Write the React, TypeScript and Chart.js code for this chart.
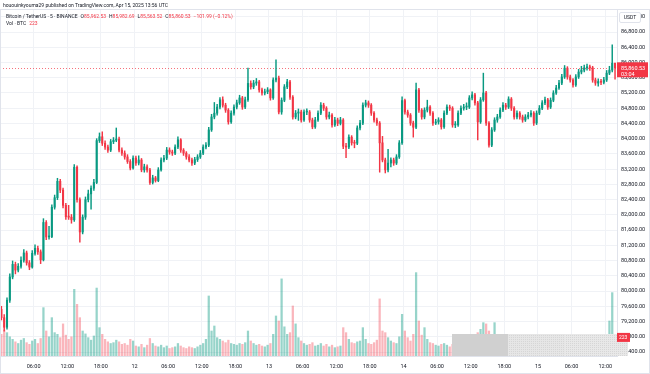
import React, { useEffect, useRef } from "react";
import { Chart, registerables } from "chart.js";
Chart.register(...registerables);

// 30-minute candles, Apr 11 00:00 UTC -> Apr 15 13:30 UTC (BTCUSDT, Binance)
const firstOpen = 79520;
const closes = [
  79300, 79050, 79760, 80370, 80700, 80550, 80650, 80810, 81000, 80740,
  80630, 80990, 81120, 81030, 80820, 81800, 81420, 81430, 82200, 82450,
  82880, 82650, 82250, 81950, 81940, 81870, 83250, 82400, 81550, 81940,
  82400, 82550, 82700, 82850, 83950, 84050, 83880, 83780, 83700, 83920,
  83960, 83990, 83700, 83620, 83520, 83400, 83230, 83490, 83360, 83440,
  83180, 83260, 83180, 82850, 82970, 82900, 83180, 83440, 83490, 83700,
  83650, 83620, 83780, 83970, 83700, 83620, 83520, 83440, 83360, 83450,
  83520, 83620, 83780, 83830, 84230, 84570, 84670, 84830, 85020, 84880,
  84750, 84440, 84670, 84830, 84940, 85070, 84830, 85020, 85450, 85360,
  85460, 85490, 85280, 85200, 85230, 85280, 85070, 85540, 85590, 84700,
  85010, 85360, 85490, 85090, 84570, 84670, 84700, 84490, 84700, 84700,
  84490, 84310, 84490, 84670, 84880, 84800, 84570, 84620, 84360, 84490,
  84400, 84490, 83800, 83780, 84040, 83890, 83880, 84280, 84410, 84880,
  84940, 84880, 84670, 84490, 84410, 83890, 83440, 83180, 83360, 83440,
  83360, 83520, 83890, 85000, 84700, 84620, 84410, 84300, 85280, 84750,
  84570, 84750, 84830, 84670, 84410, 84440, 84490, 84310, 84670, 84830,
  84800, 84360, 84360, 84670, 84800, 84830, 84830, 85070, 85150, 84940,
  84440, 85020, 85200, 84410, 83830, 84230, 84490, 84570, 84750, 84880,
  84830, 85040, 84800, 84570, 84670, 84570, 84490, 84570, 84620, 84670,
  84410, 84670, 84800, 84940, 85020, 84830, 85010, 85200, 85330, 85460,
  85620, 85850, 85620, 85540, 85410, 85620, 85750, 85800, 85860, 85880,
  85860, 85540, 85460, 85500, 85480, 85540, 85720, 85800, 85980, 85860.53,
];
const highs = [
  79600, 79380, 79820, 80450, 80790, 80760, 80720, 80900, 81090, 81050,
  80800, 81060, 81210, 81180, 81080, 81900, 81850, 81700, 82260, 82520,
  82960, 82930, 82700, 82300, 82250, 82010, 83320, 83290, 82450, 82000,
  82470, 82650, 82760, 82930, 84000, 84150, 84180, 83940, 83830, 83980,
  84030, 84280, 84040, 83760, 83680, 83580, 83450, 83550, 83540, 83550,
  83480, 83330, 83310, 83220, 83040, 83010, 83240, 83500, 83560, 83770,
  83760, 83700, 83840, 84050, 84000, 83740, 83660, 83580, 83490, 83510,
  83580, 83690, 83840, 83900, 84300, 84640, 84950, 84900, 85080, 85100,
  84930, 84790, 84730, 84890, 85010, 85140, 85110, 85090, 85850, 85520,
  85530, 85580, 85530, 85330, 85300, 85340, 85310, 85600, 86070, 85640,
  85070, 85420, 85560, 85530, 85130, 84740, 84780, 84750, 84760, 84780,
  84740, 84540, 84560, 84730, 84950, 84930, 84840, 84700, 84660, 84560,
  84540, 84560, 84530, 83880, 84100, 84080, 83960, 84340, 84480, 84940,
  85010, 84990, 84920, 84710, 84540, 84450, 84060, 83490, 83720, 83500,
  83490, 83580, 83950, 85100, 85040, 84750, 84660, 84460, 85460, 85320,
  84790, 84810, 85010, 84870, 84710, 84510, 84550, 84530, 84730, 84890,
  84880, 84840, 84450, 84730, 84860, 84900, 84940, 85130, 85230, 85190,
  84980, 85080, 85720, 85240, 84450, 84290, 84550, 84640, 84810, 84950,
  84930, 85100, 85080, 84840, 84730, 84710, 84620, 84630, 84690, 84740,
  84710, 84730, 84870, 85000, 85090, 85060, 85070, 85260, 85400, 85530,
  85690, 85920, 85890, 85670, 85580, 85680, 85820, 85900, 85930, 85960,
  85930, 85900, 85590, 85570, 85560, 85610, 85790, 85900, 86460, 85982.69,
];
const lows = [
  79240, 78950, 79000, 79700, 80320, 80450, 80500, 80600, 80760, 80680,
  80560, 80600, 80940, 80960, 80720, 80790, 81350, 81360, 81400, 82150,
  82400, 82580, 82180, 81880, 81880, 81780, 81830, 82330, 81280, 81500,
  81880, 82340, 82150, 82640, 82820, 83900, 83820, 83720, 83640, 83660,
  83870, 83920, 83650, 83560, 83460, 83350, 83180, 83200, 83300, 83310,
  83130, 83120, 83120, 82800, 82810, 82860, 82870, 83150, 83390, 83450,
  83590, 83560, 83580, 83740, 83640, 83560, 83460, 83390, 83300, 83320,
  83400, 83480, 83580, 83730, 83790, 84190, 84520, 84620, 84780, 84830,
  84690, 84380, 84400, 84620, 84780, 84900, 84770, 84790, 84980, 85300,
  85310, 85400, 85220, 85140, 85150, 85180, 85010, 85030, 85490, 84650,
  84640, 84970, 85310, 85030, 84510, 84520, 84480, 84430, 84450, 84630,
  84430, 84260, 84270, 84450, 84630, 84740, 84510, 84520, 84300, 84320,
  84340, 84360, 83740, 83500, 83740, 83830, 83760, 83840, 84230, 84370,
  84830, 84820, 84610, 84430, 84350, 83120, 83390, 83100, 83130, 83260,
  83300, 83320, 83480, 83850, 84640, 84560, 84350, 84040, 84260, 84690,
  84510, 84520, 84700, 84610, 84350, 84370, 84380, 84250, 84270, 84630,
  84740, 84300, 84290, 84320, 84630, 84750, 84760, 84790, 85020, 84880,
  83970, 84400, 84980, 84350, 83780, 83790, 84190, 84430, 84530, 84710,
  84770, 84790, 84740, 84510, 84520, 84510, 84430, 84450, 84520, 84570,
  84350, 84370, 84630, 84760, 84890, 84770, 84790, 84970, 85160, 85290,
  85420, 85580, 85560, 85480, 85350, 85370, 85580, 85700, 85750, 85800,
  85790, 85480, 85400, 85380, 85420, 85440, 85500, 85680, 85750, 85563.52,
];
const volumes = [
  260, 310, 280, 230, 200, 170, 150, 190, 210, 160,
  140, 180, 200, 150, 210, 580, 300, 230, 460, 280,
  260, 220, 385, 250, 200, 230, 800, 620, 460, 300,
  265, 220, 190, 240, 815, 340, 260, 200, 170, 150,
  160, 190, 170, 140, 150, 130, 200, 180, 120, 110,
  140, 100, 130, 210, 150, 120, 110, 130, 100, 120,
  90, 100, 110, 150, 120, 100, 90, 110, 100, 90,
  110, 130, 150, 200, 720, 300, 360, 220, 200, 180,
  160, 190, 150, 140, 130, 150, 140, 160, 300, 180,
  150, 130, 140, 120, 110, 130, 150, 260, 480, 420,
  925, 350, 260, 280, 600, 385, 220, 180, 150, 130,
  140, 160, 120, 130, 150, 120, 140, 110, 130, 100,
  110, 120, 340, 280, 200, 160, 150, 170, 180, 340,
  200, 150, 140, 160, 190, 685, 300, 280, 220, 180,
  160, 150, 230, 500, 300, 220, 180, 260, 1000, 420,
  250, 340, 200, 160, 150, 130, 120, 140, 150, 130,
  110, 140, 120, 110, 100, 120, 110, 130, 150, 140,
  280, 320, 400, 385, 300, 260, 400, 200, 160, 150,
  140, 130, 120, 140, 110, 100, 120, 110, 100, 110,
  130, 120, 140, 130, 150, 120, 130, 160, 150, 170,
  180, 220, 160, 140, 150, 130, 160, 150, 140, 170,
  150, 200, 180, 160, 150, 170, 220, 420, 760, 223,
];
const xTickLabels = [
  "06:00", "12:00", "18:00", "12", "06:00", "12:00", "18:00", "13",
  "06:00", "12:00", "18:00", "14", "06:00", "12:00", "18:00", "15",
  "06:00", "12:00",
];
const yTickValues = [
  78400, 78800, 79200, 79600, 80000, 80400, 80800, 81200, 81600, 82000, 82400,
  82800, 83200, 83600, 84000, 84400, 84800, 85200, 85600, 86000, 86400, 86800, 87200,
];
const headerTitle = "hououinkyouma29 published on TradingView.com, Apr 15, 2025 13:56 UTC";
const symbolText = "Bitcoin / TetherUS · 5 · BINANCE";
const ohlcLegend = [
  ["O", "85,962.53"], ["H", "85,982.69"], ["L", "85,563.52"], ["C", "85,860.53"],
];
const changeText = "−101.99 (−0.12%)";
const volTitle = "Vol · BTC";
const lastVolumeText = "223";
const countdownText = "03:04";

const UP = "#089981";
const DOWN = "#F23645";
const UP_VOL = "rgba(8,153,129,0.42)";
const DOWN_VOL = "rgba(242,54,69,0.36)";
const FONT = "Roboto, 'Liberation Sans', sans-serif";

export default function App() {
  const ref = useRef<HTMLCanvasElement | null>(null);

  useEffect(() => {
    const canvas = ref.current;
    if (!canvas) return;
    document.body.style.margin = "0";

    const opens = closes.map((_, i) => (i === 0 ? firstOpen : closes[i - 1]));
    const isUp = closes.map((c, i) => c >= opens[i]);
    const bodyData = closes.map((c, i) => ({ x: i + 0.5, y: [opens[i], c] }));
    const wickData = closes.map((_, i) => ({ x: i + 0.5, y: [lows[i], highs[i]] }));
    const volData = volumes.map((v, i) => ({ x: i + 0.5, y: v }));
    const candleColors = isUp.map((u) => (u ? UP : DOWN));
    const volColors = isUp.map((u) => (u ? UP_VOL : DOWN_VOL));
    const lastClose = closes[closes.length - 1];
    const lastVol = volumes[volumes.length - 1];
    const lastUp = isUp[isUp.length - 1];

    const overlay = {
      id: "overlay",
      beforeDatasetsDraw(chart: any) {
        const { ctx, chartArea, scales } = chart;
        const py = Math.round(scales.y.getPixelForValue(lastClose)) + 0.5;
        ctx.save();
        ctx.strokeStyle = DOWN;
        ctx.globalAlpha = 0.7;
        ctx.lineWidth = 1;
        ctx.setLineDash([1, 2]);
        ctx.beginPath();
        ctx.moveTo(chartArea.left, py);
        ctx.lineTo(chartArea.right, py);
        ctx.stroke();
        ctx.restore();
      },
      afterDraw(chart: any) {
        const { ctx, chartArea, scales } = chart;
        ctx.save();
        // grey panel at the bottom right
        const segs: [number, number, string][] = [
          [452, 508, "#d0d0d0"],
          [508, 565, "#e6e6e6"],
          [565, 628, "#e8e8e8"],
        ];
        segs.forEach(([a, b, c], k) => {
          ctx.fillStyle = c;
          ctx.fillRect(a, 334, b - a, 22);
          if (k > 0) {
            ctx.fillStyle = "#d6d6d6";
            for (let xx = a + 1; xx < b; xx += 2) {
              for (let yy = 335; yy < 356; yy += 2) ctx.fillRect(xx, yy, 1, 1);
            }
          }
        });
        // last price label
        const py = scales.y.getPixelForValue(lastClose);
        const x0 = chartArea.right;
        ctx.fillStyle = DOWN;
        ctx.fillRect(x0, py - 5.5, 31, 15);
        ctx.fillStyle = "#ffffff";
        ctx.font = `5.5px ${FONT}`;
        ctx.textBaseline = "middle";
        ctx.textAlign = "left";
        ctx.fillText(lastClose.toLocaleString("en-US", { minimumFractionDigits: 2 }), x0 + 4, py + 0.5);
        ctx.fillText(countdownText, x0 + 4, py + 6.5);
        // last volume label
        const vy = scales.yv.getPixelForValue(lastVol);
        ctx.fillStyle = lastUp ? UP : DOWN;
        ctx.fillRect(x0, vy - 4.5, 13, 9);
        ctx.fillStyle = "#ffffff";
        ctx.font = `5px ${FONT}`;
        ctx.fillText(lastVolumeText, x0 + 2, vy);
        // frame
        ctx.strokeStyle = "#e0e3eb";
        ctx.lineWidth = 1;
        ctx.strokeRect(0.5, 9.5, 649, 364);
        ctx.restore();
      },
    };

    const chart = new Chart(canvas, {
      type: "bar",
      data: {
        datasets: [
          {
            data: bodyData as any,
            backgroundColor: candleColors,
            barThickness: 1.4,
            minBarLength: 1,
            grouped: false,
            order: 1,
            yAxisID: "y",
          } as any,
          {
            data: wickData as any,
            backgroundColor: candleColors,
            barThickness: 0.8,
            grouped: false,
            order: 2,
            yAxisID: "y",
          } as any,
          {
            data: volData as any,
            backgroundColor: volColors,
            barThickness: 1.6,
            grouped: false,
            order: 3,
            yAxisID: "yv",
          } as any,
        ],
      },
      options: {
        responsive: false,
        animation: false,
        devicePixelRatio: 1,
        layout: { padding: { left: 0, right: 0, top: 10, bottom: 0 } },
        plugins: { legend: { display: false }, tooltip: { enabled: false } },
        scales: {
          x: {
            type: "linear",
            min: 0,
            max: 220.2,
            offset: false,
            grid: { color: "#f0f2f6", drawTicks: false, offset: false },
            border: { display: true, color: "#e0e3eb" },
            afterBuildTicks: (scale: any) => {
              scale.ticks = xTickLabels.map((_, k) => ({ value: (k + 1) * 12 }));
            },
            afterFit: (scale: any) => {
              scale.height = 18;
            },
            ticks: {
              autoSkip: false,
              maxRotation: 0,
              padding: 7,
              color: "#131722",
              font: { family: FONT, size: 5.5 },
              callback: (_v: any, idx: number) => xTickLabels[idx],
            },
          },
          y: {
            type: "linear",
            position: "right",
            min: 78295,
            max: 87377.5,
            grid: { color: "#f0f2f6", drawTicks: false },
            border: { display: true, color: "#e0e3eb" },
            afterBuildTicks: (scale: any) => {
              scale.ticks = yTickValues.map((v) => ({ value: v }));
            },
            afterFit: (scale: any) => {
              scale.width = 33;
            },
            ticks: {
              padding: 4,
              crossAlign: "near",
              color: "#131722",
              font: { family: FONT, size: 5.5 },
              callback: (v: any) =>
                Number(v).toLocaleString("en-US", { minimumFractionDigits: 2, maximumFractionDigits: 2 }),
            },
          },
          yv: {
            type: "linear",
            display: false,
            min: 0,
            max: 4150,
          },
        },
      } as any,
      plugins: [overlay],
    });
    return () => chart.destroy();
  }, []);

  const txt: React.CSSProperties = {
    position: "absolute",
    fontFamily: FONT,
    fontSize: "5px",
    lineHeight: "6px",
    color: "#131722",
    whiteSpace: "nowrap",
  };

  return (
    <div style={{ position: "fixed", left: 0, top: 0, width: 650, height: 374, background: "#ffffff", overflow: "hidden" }}>
      <canvas ref={ref} width={650} height={374} style={{ position: "absolute", left: 0, top: 0, width: 650, height: 374 }} />
      <div style={{ ...txt, left: 3, top: 2 }}>{headerTitle}</div>
      <div style={{ ...txt, left: 6, top: 13 }}>
        <span>{symbolText}</span>
        {ohlcLegend.map(([k, v]) => (
          <span key={k} style={{ marginLeft: 3 }}>
            {k}
            <span style={{ color: DOWN }}>{v}</span>
          </span>
        ))}
        <span style={{ marginLeft: 3, color: DOWN }}>{changeText}</span>
      </div>
      <div style={{ ...txt, left: 6, top: 20 }}>
        <span>{volTitle}</span>
        <span style={{ marginLeft: 3, color: DOWN }}>{lastVolumeText}</span>
      </div>
      <div
        style={{
          ...txt,
          left: 619,
          top: 12,
          width: 20,
          height: 9,
          lineHeight: "9px",
          textAlign: "center",
          border: "1px solid #e0e3eb",
          borderRadius: 2,
          background: "#ffffff",
        }}
      >
        USDT
      </div>
    </div>
  );
}
